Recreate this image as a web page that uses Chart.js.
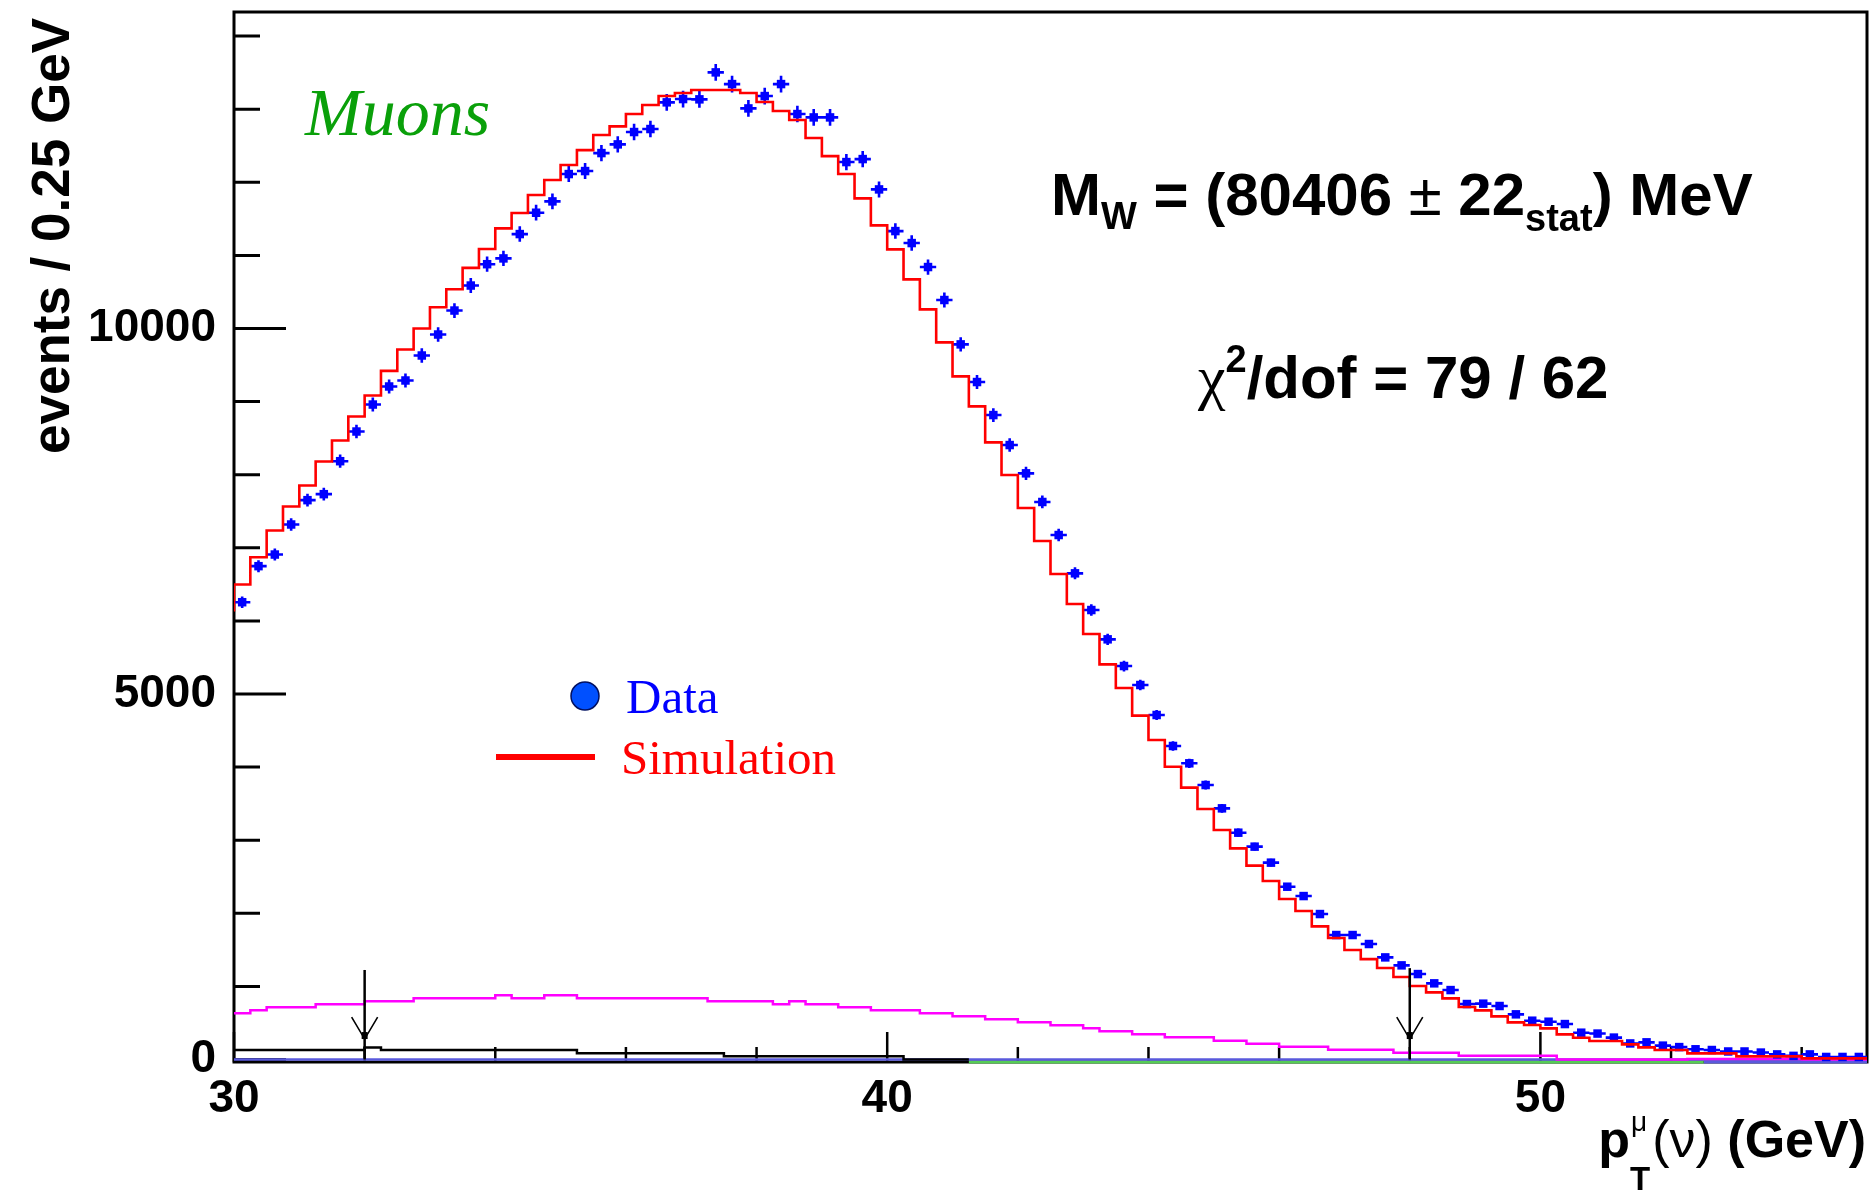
<!DOCTYPE html>
<html><head><meta charset="utf-8">
<script src="https://cdn.jsdelivr.net/npm/chart.js@4.4.1/dist/chart.umd.min.js"></script>
<style>html,body{margin:0;padding:0;background:#fff;}canvas{display:block;}</style>
</head><body>
<canvas id="c" width="1873" height="1191"></canvas>
<script>
// ---------- data ----------
const binEdges = [30,30.25,30.5,30.75,31,31.25,31.5,31.75,32,32.25,32.5,32.75,33,33.25,33.5,33.75,34,34.25,34.5,34.75,35,35.25,35.5,35.75,36,36.25,36.5,36.75,37,37.25,37.5,37.75,38,38.25,38.5,38.75,39,39.25,39.5,39.75,40,40.25,40.5,40.75,41,41.25,41.5,41.75,42,42.25,42.5,42.75,43,43.25,43.5,43.75,44,44.25,44.5,44.75,45,45.25,45.5,45.75,46,46.25,46.5,46.75,47,47.25,47.5,47.75,48,48.25,48.5,48.75,49,49.25,49.5,49.75,50,50.25,50.5,50.75,51,51.25,51.5,51.75,52,52.25,52.5,52.75,53,53.25,53.5,53.75,54,54.25,54.5,54.75,55];

const dataCounts = [
6256,6749,6908,7319,7652,7734,8185,8591,8960,9207,
9289,9631,9918,10246,10588,10880,10959,11292,11584,11739,
12113,12154,12400,12519,12688,12729,13094,13139,13135,13504,
13344,13011,13180,13344,12934,12888,12888,12277,12318,11903,
11333,11169,10841,10390,9783,9268,8816,8406,8019,7627,
7175,6651,6149,5748,5383,5123,4713,4289,4052,3755,
3436,3103,2912,2693,2364,2236,1990,1703,1703,1580,
1397,1288,1169,1042,950,759,764,732,618,531,
517,485,367,355,300,220,235,190,170,140,
130,110,110,95,70,50,70,35,35,35];

const simCounts = [
6129,6498,6872,7237,7565,7852,8181,8468,8796,9083,
9421,9713,10000,10292,10538,10830,11087,11370,11580,11826,
12031,12236,12441,12647,12765,12934,13057,13180,13221,13262,
13262,13262,13221,13098,12975,12852,12606,12359,12113,11780,
11411,11083,10672,10262,9810,9345,8935,8442,7996,7545,
7093,6642,6231,5821,5406,5082,4704,4371,4006,3719,
3427,3140,2889,2652,2442,2195,2031,1821,1662,1498,
1374,1251,1128,1005,918,836,718,672,590,508,
472,426,344,298,253,253,207,166,130,130,
84,84,84,43,43,43,43,15,15,15];

const bkgMagenta = [
632,632,673,714,714,714,755,755,755,796,
796,796,837,837,837,837,837,878,837,837,
878,878,837,837,837,837,837,837,837,837,
796,796,796,796,755,796,755,755,714,714,
673,673,673,632,632,591,591,550,550,509,
509,468,468,427,385,385,344,344,303,303,
303,258,258,217,217,176,176,176,135,135,
135,135,94,94,94,94,53,53,53,53,
53,53,0,0,0,0,0,0,0,0,
8,8,8,8,8,8,8,0,0,0];

const bkgBlack = [
130,130,130,130,130,130,130,130,130,166,
130,130,130,130,130,130,130,130,130,130,
130,130,84,84,84,84,84,84,84,84,
84,43,43,43,43,43,43,43,43,43,
43,43,0,0,0];

const bkgZeroRange = [30, 55];        // slate-blue background lying at 0
const bandLevel = -34;                // level of the frame line (y minimum)
const greenBandRange = [41.25, 52.5];
const slateBandRange = [52.5, 55];

const xTickValues = [30,32,34,36,38,40,42,44,46,48,50,52,54];
const xMajorTicks = [30,40,50];
const yTickValues = [0,1000,2000,3000,4000,5000,6000,7000,8000,9000,10000,11000,12000,13000,14000];
const yMajorTicks = [0,5000,10000];

const arrowX = [32, 48];
const arrowTop = [1225, 1250];
const arrowTip = 280;

// ---------- helpers ----------
const SANS = "'Liberation Sans', Arial, Helvetica, sans-serif";
const SERIF = "'Liberation Serif', 'Times New Roman', serif";

function stepSeries(values) {
  const pts = values.map((v, i) => ({x: binEdges[i], y: v}));
  pts.push({x: binEdges[values.length], y: values[values.length - 1]});
  return pts;
}
const dataPoints = dataCounts.map((v, i) => ({x: (binEdges[i] + binEdges[i + 1]) / 2, y: v}));

function drawRuns(ctx, x, y, runs) {
  let cx = x;
  ctx.textAlign = 'left';
  ctx.textBaseline = 'alphabetic';
  runs.forEach(r => {
    ctx.font = r.font;
    ctx.fillStyle = r.color || '#000';
    ctx.fillText(r.t, cx, y + (r.dy || 0));
    cx += ctx.measureText(r.t).width + (r.gap || 0);
  });
}

// ---------- plugins ----------
const framePlugin = {
  id: 'frame',
  beforeDatasetsDraw(chart) {
    const {ctx, chartArea: a, scales: {x, y}} = chart;
    ctx.save();
    ctx.strokeStyle = '#000';
    ctx.lineWidth = 3;
    ctx.strokeRect(a.left, a.top, a.right - a.left, a.bottom - a.top);
    ctx.beginPath();
    y.ticks.forEach(t => {
      const py = y.getPixelForValue(t.value);
      const len = yMajorTicks.includes(t.value) ? 52 : 26;
      ctx.moveTo(a.left, py); ctx.lineTo(a.left + len, py);
    });
    ctx.stroke();
    ctx.lineWidth = 2.5;
    ctx.beginPath();
    x.ticks.forEach(t => {
      const px = x.getPixelForValue(t.value);
      const len = xMajorTicks.includes(t.value) ? 30 : 15;
      ctx.moveTo(px, a.bottom); ctx.lineTo(px, a.bottom - len);
    });
    ctx.stroke();
    ctx.restore();
  }
};

const errorBarPlugin = {
  id: 'errbars',
  afterDatasetDraw(chart, args) {
    if (args.index !== 1) return;
    const {ctx, scales: {x, y}} = chart;
    ctx.save();
    ctx.strokeStyle = '#0000ff';
    ctx.lineWidth = 2.6;
    ctx.beginPath();
    dataCounts.forEach((v, i) => {
      const xl = x.getPixelForValue(binEdges[i]);
      const xr = x.getPixelForValue(binEdges[i + 1]);
      const xc = (xl + xr) / 2;
      const yc = y.getPixelForValue(v);
      const e = Math.sqrt(v);
      ctx.moveTo(xl, yc); ctx.lineTo(xr, yc);
      ctx.moveTo(xc, y.getPixelForValue(v + e)); ctx.lineTo(xc, y.getPixelForValue(v - e));
    });
    ctx.stroke();
    ctx.restore();
  }
};

const annotPlugin = {
  id: 'annot',
  afterDraw(chart) {
    const {ctx, scales: {x, y}} = chart;
    ctx.save();
    // arrows marking the fit range
    arrowX.forEach((xv, i) => {
      const px = x.getPixelForValue(xv);
      const top = y.getPixelForValue(arrowTop[i]);
      const bot = y.getPixelForValue(0);
      const tip = y.getPixelForValue(arrowTip);
      ctx.strokeStyle = '#000';
      ctx.lineWidth = 2.5;
      ctx.beginPath(); ctx.moveTo(px, top); ctx.lineTo(px, bot); ctx.stroke();
      ctx.lineWidth = 1.6;
      ctx.beginPath();
      ctx.moveTo(px - 13, tip - 22); ctx.lineTo(px, tip); ctx.lineTo(px + 13, tip - 22);
      ctx.stroke();
      ctx.fillStyle = '#000';
      ctx.fillRect(px - 3, tip - 7, 6, 7);
    });

    // y-axis title
    ctx.save();
    ctx.translate(69, 18);
    ctx.rotate(-Math.PI / 2);
    ctx.font = `bold 53px ${SANS}`;
    ctx.fillStyle = '#000';
    ctx.textAlign = 'right';
    ctx.textBaseline = 'alphabetic';
    ctx.fillText('events / 0.25 GeV', 0, 0);
    ctx.restore();

    // x-axis title  p_T^mu(nu) (GeV)
    {
      const F = 52, base = 1157;
      ctx.textBaseline = 'alphabetic'; ctx.textAlign = 'left'; ctx.fillStyle = '#000';
      ctx.font = `bold ${F}px ${SANS}`; const wp = ctx.measureText('p').width;
      ctx.font = `28px ${SANS}`; const wmu = ctx.measureText('μ').width;
      ctx.font = `bold 33px ${SANS}`; const wT = ctx.measureText('T').width;
      ctx.font = `${F}px ${SANS}`; const wnu = ctx.measureText('(ν)').width;
      ctx.font = `bold ${F}px ${SANS}`; const wg = ctx.measureText(' (GeV)').width;
      const total = wp + Math.max(wmu, wT) + 2 + wnu + wg;
      let cx = 1866 - total;
      ctx.font = `bold ${F}px ${SANS}`; ctx.fillText('p', cx, base); cx += wp;
      ctx.font = `28px ${SANS}`; ctx.fillText('μ', cx + 1, base - 26);
      ctx.font = `bold 33px ${SANS}`; ctx.fillText('T', cx, base + 33);
      cx += Math.max(wmu, wT) + 2;
      ctx.font = `${F}px ${SANS}`; ctx.fillText('(ν)', cx, base); cx += wnu;
      ctx.font = `bold ${F}px ${SANS}`; ctx.fillText(' (GeV)', cx, base);
    }

    // "Muons"
    ctx.font = `italic 68px ${SERIF}`;
    ctx.fillStyle = '#0aa00a';
    ctx.textAlign = 'left';
    ctx.textBaseline = 'alphabetic';
    ctx.fillText('Muons', 305, 135);

    // M_W result
    drawRuns(ctx, 1051, 215, [
      {t: 'M', font: `bold 60px ${SANS}`},
      {t: 'W', font: `bold 38px ${SANS}`, dy: 14},
      {t: ' = (80406 ', font: `bold 60px ${SANS}`},
      {t: '±', font: `60px ${SANS}`},
      {t: ' 22', font: `bold 60px ${SANS}`},
      {t: 'stat', font: `bold 38px ${SANS}`, dy: 16},
      {t: ') MeV', font: `bold 60px ${SANS}`, gap: 0}
    ]);

    // chi2/dof
    drawRuns(ctx, 1198, 398, [
      {t: 'χ', font: `62px ${SERIF}`},
      {t: '2', font: `bold 38px ${SANS}`, dy: -26},
      {t: '/dof = 79 / 62', font: `bold 60px ${SANS}`}
    ]);

    // legend
    ctx.beginPath();
    ctx.arc(585, 696, 14, 0, Math.PI * 2);
    ctx.fillStyle = '#0050ff';
    ctx.fill();
    ctx.lineWidth = 1.5; ctx.strokeStyle = '#001060'; ctx.stroke();
    ctx.font = `49px ${SERIF}`;
    ctx.fillStyle = '#0000ff';
    ctx.fillText('Data', 626, 713);
    ctx.strokeStyle = '#ff0000'; ctx.lineWidth = 6;
    ctx.beginPath(); ctx.moveTo(496, 757); ctx.lineTo(595, 757); ctx.stroke();
    ctx.fillStyle = '#ff0000';
    ctx.fillText('Simulation', 621, 774);
    ctx.restore();
  }
};

// ---------- chart ----------
new Chart(document.getElementById('c'), {
  type: 'line',
  data: {
    datasets: [
      {label: 'Simulation', data: stepSeries(simCounts), stepped: 'after',
       borderColor: '#ff0000', borderWidth: 2.6, pointRadius: 0, fill: false},
      {label: 'Data', data: dataPoints, showLine: false, pointStyle: 'rect',
       pointRadius: 6, pointBackgroundColor: '#0000ff', pointBorderColor: '#0000ff', pointBorderWidth: 0},
      {label: 'Background 1', data: stepSeries(bkgMagenta), stepped: 'after',
       borderColor: '#ff00ff', borderWidth: 2.5, pointRadius: 0, fill: false},
      {label: 'Background 2', data: stepSeries(bkgBlack), stepped: 'after',
       borderColor: '#000000', borderWidth: 2.5, pointRadius: 0, fill: false},
      {label: 'Background 3', data: bkgZeroRange.map(v => ({x: v, y: 0})),
       borderColor: '#5a5adc', borderWidth: 2.5, pointRadius: 0, fill: false},
      {label: 'Background 4', data: greenBandRange.map(v => ({x: v, y: bandLevel})),
       borderColor: '#55cc55', borderWidth: 3, pointRadius: 0, fill: false, clip: false},
      {label: 'Background 5', data: slateBandRange.map(v => ({x: v, y: bandLevel})),
       borderColor: '#5a5adc', borderWidth: 3, pointRadius: 0, fill: false, clip: false}
    ]
  },
  options: {
    responsive: false,
    animation: false,
    layout: {padding: {left: 0, right: 4, top: 12, bottom: 0}},
    plugins: {legend: {display: false}, tooltip: {enabled: false}},
    scales: {
      x: {
        type: 'linear', min: 30, max: 55,
        afterBuildTicks: s => { s.ticks = xTickValues.map(v => ({value: v})); },
        afterFit: s => { s.height = 129; s.paddingLeft = 0; s.paddingRight = 0; },
        grid: {display: false}, border: {display: false},
        ticks: {autoSkip: false, maxRotation: 0, padding: 2, color: '#000',
          font: {family: SANS, weight: 'bold', size: 46},
          callback: v => xMajorTicks.includes(v) ? String(v) : ''}
      },
      y: {
        type: 'linear', min: bandLevel, max: 14330,
        afterBuildTicks: s => { s.ticks = yTickValues.map(v => ({value: v})); },
        afterFit: s => { s.width = 234; s.paddingTop = 0; s.paddingBottom = 0; },
        grid: {display: false}, border: {display: false},
        ticks: {autoSkip: false, padding: 10, color: '#000',
          font: {family: SANS, weight: 'bold', size: 46},
          callback: v => yMajorTicks.includes(v) ? String(v) : ''}
      }
    }
  },
  plugins: [framePlugin, errorBarPlugin, annotPlugin]
});
</script>
</body></html>
